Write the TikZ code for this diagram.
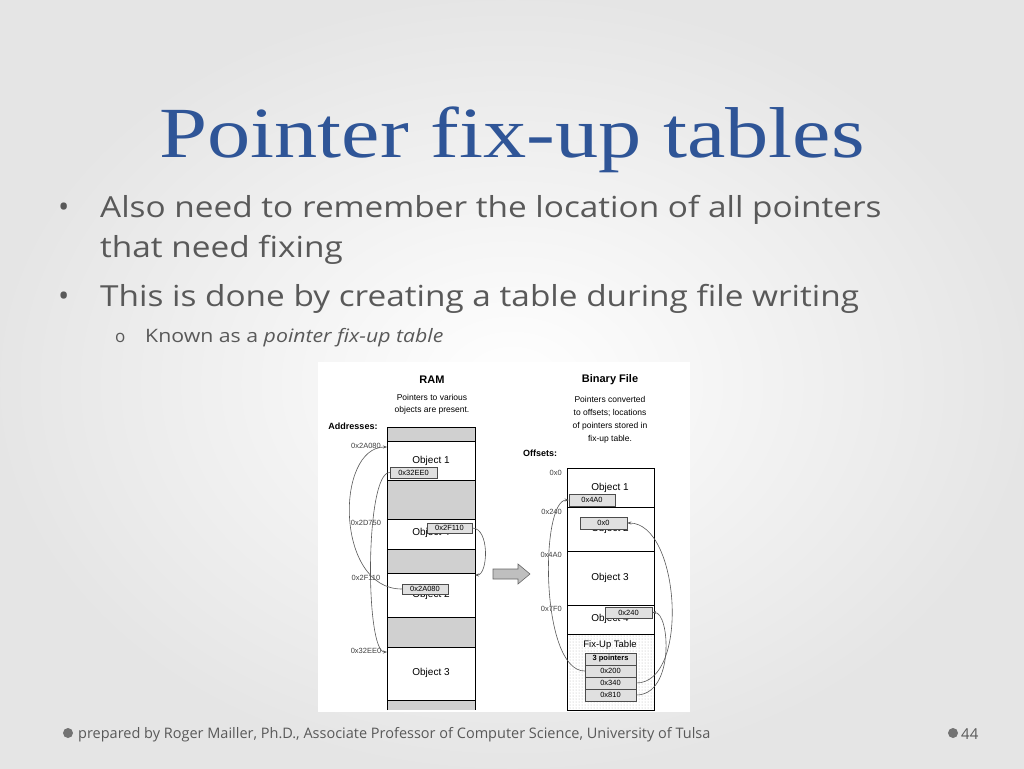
\documentclass[tikz,border=0pt]{standalone}
\usepackage{fontspec}
\setmainfont{Open Sans}
\newfontfamily\bodyf[FakeStretch=1.15]{Open Sans}
\newfontfamily\arialf{Liberation Sans}
\newfontfamily\titlef[FakeStretch=1.2]{Liberation Serif}
\usetikzlibrary{patterns,arrows.meta}
\definecolor{titleblue}{HTML}{2F5597}
\definecolor{bodygray}{HTML}{595959}
\definecolor{cellgray}{HTML}{D0D0D0}
\tikzset{
 cell/.style={draw=black,line width=0.9pt},
 ptr/.style={draw=black!70,fill=black!12,line width=0.5pt,font=\arialf\fontsize{7.5}{8}\selectfont,inner sep=0pt,anchor=center},
 lbl/.style={font=\arialf\fontsize{7.5}{8}\selectfont,text=black!75,inner sep=0pt},
 objt/.style={font=\arialf\fontsize{10}{11}\selectfont,inner sep=0pt},
 con/.style={draw=black!65,line width=0.6pt,-{Stealth[length=4pt,width=3pt]}},
}
\begin{document}
\begin{tikzpicture}[x=1pt,y=-1pt]
\useasboundingbox (0,0) rectangle (1024,768);
\shade[inner color=white,outer color=black!10] (0,0) rectangle (1024,768);
\node[font=\titlef\fontsize{72}{76}\selectfont,text=titleblue,anchor=base] (title) at (512,157) {Pointer fix-up tables};
\begin{scope}[every node/.style={text=bodygray,anchor=base west,inner sep=0pt}]
\node[font=\fontsize{30}{24}\selectfont] (b1) at (58,217) {•};
\node[font=\bodyf\fontsize{29}{34}\selectfont] (t1) at (100,217) {Also need to remember the location of all pointers};
\node[font=\bodyf\fontsize{29}{34}\selectfont] (t2) at (100,257) {that need fixing};
\node[font=\fontsize{30}{24}\selectfont] (b2) at (58,306) {•};
\node[font=\bodyf\fontsize{29}{34}\selectfont] (t3) at (100,306) {This is done by creating a table during file writing};
\node[font=\fontsize{17}{20}\selectfont] (b3) at (115,342) {o};
\node[font=\bodyf\fontsize{18.5}{22}\selectfont] (t4) at (145,342) {Known as a \textit{pointer fix-up table}};
\node[font=\fontsize{14.5}{16}\selectfont] (f1) at (78,738) {prepared by Roger Mailler, Ph.D., Associate Professor of Computer Science, University of Tulsa};
\node[font=\fontsize{15}{16}\selectfont] (pg) at (961,739) {44};
\end{scope}
\fill[black!55] (68,733) circle (5);
\fill[black!55] (953,733) circle (5);
% diagram background
\fill[white] (318,362) rectangle (690,712);
% RAM
\node[font=\arialf\bfseries\fontsize{11}{13}\selectfont] (ram) at (432,380) {RAM};
\node[lbl,font=\arialf\fontsize{8.5}{12.5}\selectfont,text=black,align=center] (ramd) at (432,404.5) {Pointers to various\\objects are present.};
\node[font=\arialf\bfseries\fontsize{9}{11}\selectfont,inner sep=0pt] (addr) at (353,426) {Addresses:};
\fill[cellgray] (387,427) rectangle (475,441);
\fill[cellgray] (387,480) rectangle (475,519);
\fill[cellgray] (387,549) rectangle (475,573);
\fill[cellgray] (387,617) rectangle (475,647);
\fill[cellgray] (387,700) rectangle (475,710);
\draw[cell] (387,710) -- (387,427) -- (475,427) -- (475,710);
\foreach \yy in {441,480,519,549,573,617,647,700} \draw[cell] (387,\yy) -- (475,\yy);
\node[objt] (o1) at (431,461) {Object 1};
\node[objt] (o4) at (431,533) {Object 4};
\node[objt] (o2) at (431,595) {Object 2};
\node[objt] (o3) at (431,673) {Object 3};
\node[ptr,minimum width=47pt,minimum height=11pt] (p1) at (413.5,472.5) {0x32EE0};
\node[ptr,minimum width=45pt,minimum height=10pt] (p2) at (449.5,528) {0x2F110};
\node[ptr,minimum width=46pt,minimum height=10pt] (p3) at (425,589) {0x2A080};
\node[lbl] (a1) at (366,446) {0x2A080};
\node[lbl] (a2) at (366,523) {0x2D750};
\node[lbl] (a3) at (366,578) {0x2F110};
\node[lbl] (a4) at (366,651) {0x32EE0};
\coordinate (ea1) at (387,447);
\coordinate (ea3) at (475,575);
\coordinate (ea4) at (387,652);
\draw[con] (p3.west) .. controls (335,589) and (335,447) .. (ea1);
\draw[con] (p1.west) .. controls (365,472) and (365,652) .. (ea4);
\draw[con] (p2.east) .. controls (490,528) and (488,575) .. (ea3);
% big arrow
\draw[fill=black!25,draw=black!60,line width=0.6pt] (493,569) -- (518,569) -- (518,564) -- (530,574) -- (518,584) -- (518,579) -- (493,579) -- cycle;
% Binary file
\node[font=\arialf\bfseries\fontsize{11}{13}\selectfont] (bf) at (610,380) {Binary File};
\node[lbl,font=\arialf\fontsize{8.5}{13}\selectfont,text=black,align=center] (bfd) at (610,419.5) {Pointers converted\\to offsets; locations\\of pointers stored in\\fix-up table.};
\node[font=\arialf\bfseries\fontsize{9}{11}\selectfont,inner sep=0pt] (offs) at (540,453) {Offsets:};
\fill[pattern=dots,pattern color=black!30] (567,634) rectangle (654,710);
\draw[cell] (567,468) rectangle (654,710);
\foreach \yy in {507,551,605,634} \draw[cell] (567,\yy) -- (654,\yy);
\node[objt] (b1o) at (610,488) {Object 1};
\node[objt] (b2o) at (610,529) {Object 2};
\node[objt] (b3o) at (610,578) {Object 3};
\node[objt] (b4o) at (610,619) {Object 4};
\node[objt,font=\arialf\fontsize{9.5}{11}\selectfont] (fut) at (610,645) {Fix-Up Table};
\node[ptr,minimum width=46pt,minimum height=12pt] (q1) at (592,500) {0x4A0};
\node[ptr,minimum width=47pt,minimum height=12pt] (q2) at (603.5,523) {0x0};
\node[ptr,minimum width=47pt,minimum height=11pt] (q3) at (628.5,612.5) {0x240};
\node[ptr,minimum width=51pt,minimum height=12pt,font=\arialf\bfseries\fontsize{7.5}{8}\selectfont] (f0) at (610.5,659) {3 pointers};
\node[ptr,minimum width=51pt,minimum height=12pt] (f1p) at (610.5,671) {0x200};
\node[ptr,minimum width=51pt,minimum height=12pt] (f2p) at (610.5,683) {0x340};
\node[ptr,minimum width=51pt,minimum height=12pt] (f3p) at (610.5,695) {0x810};
\node[lbl,anchor=east] (c1) at (562,473) {0x0};
\node[lbl,anchor=east] (c2) at (562,512) {0x240};
\node[lbl,anchor=east] (c3) at (562,555) {0x4A0};
\node[lbl,anchor=east] (c4) at (562,609) {0x7F0};
\draw[con] (f1p.west) .. controls (540,671) and (540,500) .. (q1.west);
\draw[con] (f2p.east) .. controls (690,683) and (680,523) .. (q2.east);
\draw[con] (f3p.east) .. controls (675,695) and (670,612) .. (q3.east);
\end{tikzpicture}
\end{document}
